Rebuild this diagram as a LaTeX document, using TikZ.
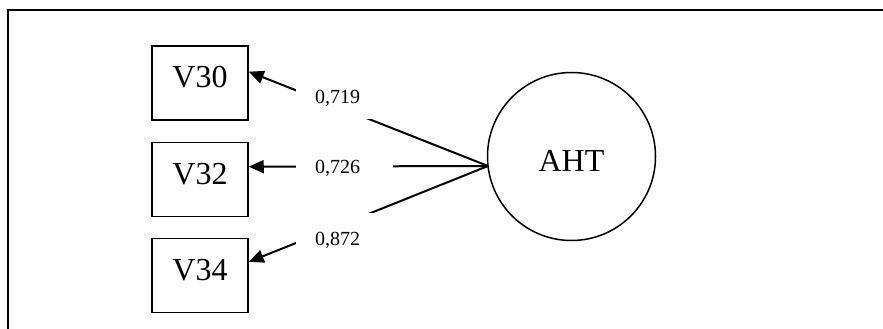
\documentclass[tikz,border=0pt]{standalone}
\usepackage{fontspec}
\setmainfont{Liberation Serif}
\usetikzlibrary{arrows.meta,calc}
\begin{document}
\begin{tikzpicture}[x=1pt,y=-1pt,
  frame/.style={line width=2pt},
  obs/.style={draw,line width=1.5pt,minimum width=96pt,minimum height=74pt,inner sep=0pt,
    font=\fontsize{32}{38}\selectfont,text height=21pt,text depth=12pt},
  latent/.style={draw,circle,line width=1.5pt,minimum size=168pt,inner sep=0pt,
    font=\fontsize{32}{38}\selectfont,text height=29pt,text depth=0pt},
  link/.style={line width=2pt,-{Triangle[length=15pt,width=13pt]}},
  gapbox/.style={fill=white,inner sep=0pt,minimum width=97pt},
  lbl/.style={inner sep=0pt,anchor=base west,font=\fontsize{20}{24}\selectfont}
]
\useasboundingbox (0,0) rectangle (883,329);
\draw[frame] (883,10) -- (8,10) -- (8,329);

\node[obs] (v30) at (200,83) {V30};
\node[obs] (v32) at (200,179.5) {V32};
\node[obs] (v34) at (200,275.5) {V34};
\node[latent] (aht) at (571.5,156.5) {AHT};
\coordinate (src) at (488,166);

\draw[link] (src) -- ($(v30.north east)!0.35!(v30.south east)$);
\draw[link] (src) -- ($(v32.north east)!0.33!(v32.south east)$);
\draw[link] (src) -- ($(v34.north east)!0.32!(v34.south east)$);

\node[gapbox,minimum height=37pt] (g1) at (344.5,100) {};
\node[gapbox,minimum height=36pt] (g2) at (344.5,166) {};
\node[gapbox,minimum height=36pt] (g3) at (344.5,231) {};

\node[lbl] (l1) at (315,103) {0,719};
\node[lbl] (l2) at (315,173.5) {0,726};
\node[lbl] (l3) at (315,245) {0,872};
\end{tikzpicture}
\end{document}
